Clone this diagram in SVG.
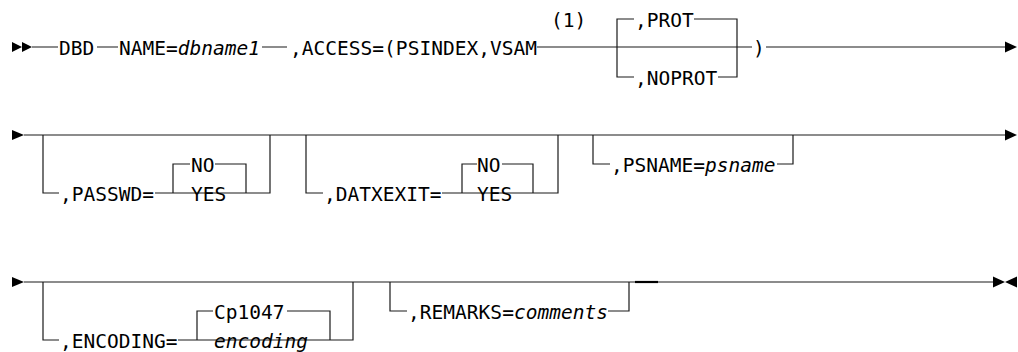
<svg xmlns="http://www.w3.org/2000/svg" width="1018" height="352" viewBox="0 0 1018 352">
<style>
text{font-family:"DejaVu Sans Mono","Liberation Mono",monospace;font-size:19.5px;fill:#000}
.i{font-style:italic}
.ln{fill:none;stroke:#1a1a1a;stroke-width:1.2}
.ar{fill:#000}
</style>
<rect width="1018" height="352" fill="#fff"/>
<g id="connectors">
<!-- row 1 -->
<polygon class="ar" points="12,42 22,47 12,52"/>
<polygon class="ar" points="22,42 32,47 22,52"/>
<path class="ln" d="M32,47H58M97,47H118M262,47H287M537,47H752M766,47H1005"/>
<path class="ln" d="M634,19H617V77H634M694,19H737V77H718"/>
<polygon class="ar" points="1005,41.5 1017,47 1005,52.5"/>
<!-- row 2 -->
<polygon class="ar" points="12,130 24,135 12,140"/>
<path class="ln" d="M24,135H1005"/>
<path class="ln" d="M43,135V193H59M155,193H270V135M173,193V164H190M215,164H246V193"/>
<path class="ln" d="M306,135V193H323M442,193H558V135M462,193V164H477M502,164H533V193"/>
<path class="ln" d="M593,135V164H610M777,164H793V135"/>
<polygon class="ar" points="1005,129.5 1017,135 1005,140.5"/>
<!-- row 3 -->
<polygon class="ar" points="12,277 24,282 12,287"/>
<path class="ln" d="M24,282H993"/>
<path class="ln" d="M43,282V340H59M178,340H353V282M197,340V311H213M287,311H330V340"/>
<path class="ln" d="M390,282V311H407M608,311H629V282"/>
<path d="M635,282H658" stroke="#000" stroke-width="2.2"/>
<polygon class="ar" points="993,276.5 1005,282 993,287.5"/>
<polygon class="ar" points="1017,276.5 1005,282 1017,287.5"/>
</g>
<g id="n-dbd"><text x="59" y="54.5" textLength="35.3" lengthAdjust="spacing">DBD</text></g>
<g id="n-name"><text x="119" y="54.5" textLength="141" lengthAdjust="spacing">NAME=<tspan class="i">dbname1</tspan></text></g>
<g id="n-access"><text x="290" y="54.5" textLength="247" lengthAdjust="spacing">,ACCESS=(PSINDEX,VSAM</text></g>
<g id="n-note"><text x="551" y="26.5" textLength="35.3" lengthAdjust="spacing">(1)</text></g>
<g id="n-prot"><text x="635" y="26.5" textLength="58.8" lengthAdjust="spacing">,PROT</text></g>
<g id="n-noprot"><text x="635" y="84.5" textLength="82.3" lengthAdjust="spacing">,NOPROT</text></g>
<g id="n-paren"><text x="753" y="54.5" textLength="11.8" lengthAdjust="spacing">)</text></g>
<g id="n-passwd"><text x="60" y="200.5" textLength="94" lengthAdjust="spacing">,PASSWD=</text></g>
<g id="n-passwd-no"><text x="191" y="171.5" textLength="23.5" lengthAdjust="spacing">NO</text></g>
<g id="n-passwd-yes"><text x="191" y="200.5" textLength="35.3" lengthAdjust="spacing">YES</text></g>
<g id="n-datxexit"><text x="324" y="200.5" textLength="117.6" lengthAdjust="spacing">,DATXEXIT=</text></g>
<g id="n-datx-no"><text x="477" y="171.5" textLength="23.5" lengthAdjust="spacing">NO</text></g>
<g id="n-datx-yes"><text x="477" y="200.5" textLength="35.3" lengthAdjust="spacing">YES</text></g>
<g id="n-psname"><text x="611" y="171.5" textLength="164.6" lengthAdjust="spacing">,PSNAME=<tspan class="i">psname</tspan></text></g>
<g id="n-encoding"><text x="60" y="347.5" textLength="117.6" lengthAdjust="spacing">,ENCODING=</text></g>
<g id="n-cp1047"><text x="214" y="318.5" textLength="70.6" lengthAdjust="spacing">Cp1047</text></g>
<g id="n-enc-val"><text class="i" x="214" y="347.5" textLength="94" lengthAdjust="spacing">encoding</text></g>
<g id="n-remarks"><text x="408" y="318.5" textLength="200" lengthAdjust="spacing">,REMARKS=<tspan class="i">comments</tspan></text></g>
</svg>
